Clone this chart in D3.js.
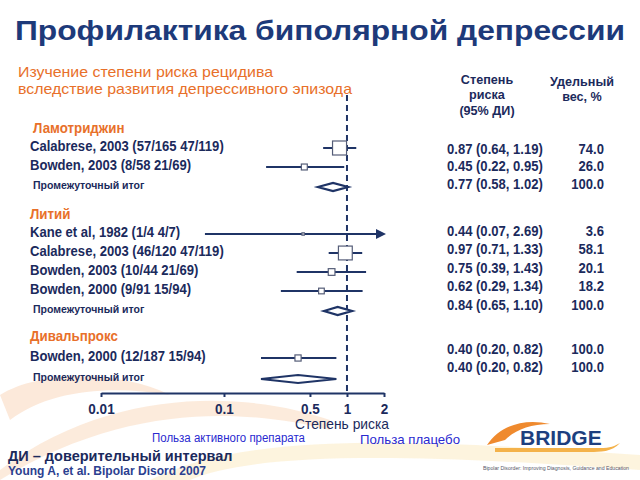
<!DOCTYPE html>
<html><head><meta charset="utf-8">
<script src="https://cdn.jsdelivr.net/npm/d3@7"></script>
<style>body{margin:0;background:#fff}svg{display:block}</style>
</head><body><svg id="c" width="640" height="480"></svg>
<script>
// ---------- DATA ----------
const groups = ["Ламотриджин", "Литий", "Дивальпрокс"];
const studies = [
  "Calabrese, 2003 (57/165 47/119)", "Bowden, 2003 (8/58 21/69)",
  "Kane et al, 1982 (1/4 4/7)", "Calabrese, 2003 (46/120 47/119)", "Bowden, 2003 (10/44 21/69)", "Bowden, 2000 (9/91 15/94)",
  "Bowden, 2000 (12/187 15/94)"
];
const studyGroup = [0, 0, 1, 1, 1, 1, 2];
const hr   = [0.87, 0.45, 0.44, 0.97, 0.75, 0.62, 0.40];
const lo   = [0.64, 0.22, 0.07, 0.71, 0.39, 0.29, 0.20];
const hi   = [1.19, 0.95, 2.69, 1.33, 1.43, 1.34, 0.82];
const weight = [74.0, 26.0, 3.6, 58.1, 20.1, 18.2, 100.0];
const subHr = [0.77, 0.84, 0.40];
const subLo = [0.58, 0.65, 0.20];
const subHi = [1.02, 1.10, 0.82];
const subWeight = [100.0, 100.0, 100.0];
const tickValues = [0.01, 0.1, 0.5, 1, 2];
const tickLabels = ["0.01", "0.1", "0.5", "1", "2"];

// ---------- LAYOUT ----------
const svg = d3.select("#c");
const navy = "#1b2a5c", orange = "#e8702a", markNavy = "#1f3466";
const sans = "'Liberation Sans',Arial,sans-serif";
function condense(sel, f) {
  sel.each(function () {
    const w = this.getComputedTextLength();
    d3.select(this).attr("textLength", w * f).attr("lengthAdjust", "spacingAndGlyphs");
  });
  return sel;
}

// decorative background swooshes
const deco = svg.append("g");
deco.append("path").attr("d","M0,470 C120,380 260,395 330,420 L330,430 C250,410 130,400 0,480 Z").attr("fill","#f6c79a").attr("opacity",0.35);
deco.append("path").attr("d","M0,395 C40,370 120,370 170,395 C110,385 50,390 10,420 Z").attr("fill","#f3a86a").attr("opacity",0.25);
deco.append("path").attr("d","M150,480 C250,430 420,440 640,455 L640,470 C430,455 260,450 190,480 Z").attr("fill","#f9dfa0").attr("opacity",0.35);

const x = d3.scaleLog().domain([0.01, 2]).range([101, 384]);

// row y positions (marks)
const groupY = [128, 214, 336];
const studyY = [148, 167, 234, 253, 272, 291, 358];
const subY = [187, 311, 379];
const rightStudyY = [149, 166, 231, 249, 268, 286, 349];
const rightSubY = [184, 305, 367];

// title
svg.append("text").attr("x", 15).attr("y", 40).text("Профилактика биполярной депрессии")
  .attr("font-family", sans).attr("font-weight", "bold").attr("font-size", 28).attr("fill", "#1d3a7a")
  .attr("textLength", 610).attr("lengthAdjust", "spacingAndGlyphs");
svg.append("text").attr("x", 18).attr("y", 77).text("Изучение степени риска рецидива")
  .attr("font-family", sans).attr("font-size", 15).attr("fill", orange)
  .attr("textLength", 255).attr("lengthAdjust", "spacingAndGlyphs");
svg.append("text").attr("x", 18).attr("y", 94).text("вследствие развития депрессивного эпизода")
  .attr("font-family", sans).attr("font-size", 15).attr("fill", orange)
  .attr("textLength", 334).attr("lengthAdjust", "spacingAndGlyphs");

// column headers
const hdr = svg.append("g").attr("font-family", sans).attr("font-weight", "bold").attr("font-size", 13).attr("fill", navy).attr("text-anchor", "middle");
[["Степень", 84], ["риска", 99], ["(95% ДИ)", 115]].forEach(([t, y]) => hdr.append("text").attr("x", 487).attr("y", y).text(t));
[["Удельный", 86], ["вес, %", 101]].forEach(([t, y]) => hdr.append("text").attr("x", 582).attr("y", y).text(t));
condense(hdr.selectAll("text"), 0.97);

// dashed reference line at 1
svg.append("line").attr("x1", x(1)).attr("x2", x(1)).attr("y1", 95).attr("y2", 393)
  .attr("stroke", markNavy).attr("stroke-width", 2).attr("stroke-dasharray", "6,4");

// group headers
condense(svg.append("g").selectAll("text").data(groups).join("text")
  .attr("x", (d, i) => i === 0 ? 33 : 30).attr("y", (d, i) => groupY[i] + 5).text(d => d)
  .attr("font-family", sans).attr("font-weight", "bold").attr("font-size", 14).attr("fill", orange), 0.95);

// study labels
condense(svg.append("g").selectAll("text").data(studies).join("text")
  .attr("x", 30).attr("y", (d, i) => studyY[i] + 3).text(d => d)
  .attr("font-family", sans).attr("font-weight", "bold").attr("font-size", 15).attr("fill", navy), 0.87);

// subtotal labels
svg.append("g").selectAll("text").data(subHr).join("text")
  .attr("x", 33).attr("y", (d, i) => subY[i] + 2).text("Промежуточный итог")
  .attr("font-family", sans).attr("font-weight", "bold").attr("font-size", 10.5).attr("fill", navy);

// CI lines
const xmax = x.domain()[1];
const cl = svg.append("g");
studies.forEach((s, i) => {
  const x1 = x(lo[i]), x2 = x(Math.min(hi[i], xmax));
  cl.append("line").attr("x1", x1).attr("x2", hi[i] > xmax ? x2 - 6 : x2).attr("y1", studyY[i]).attr("y2", studyY[i])
    .attr("stroke", markNavy).attr("stroke-width", 2.2);
  if (hi[i] > xmax) {
    cl.append("path").attr("d", `M${x2 - 8},${studyY[i] - 5} L${x2 + 2},${studyY[i]} L${x2 - 8},${studyY[i] + 5} Z`).attr("fill", markNavy);
  }
});
// boxes sized by precision (inverse variance from CI)
const prec = studies.map((s, i) => { const se = Math.log(hi[i] / lo[i]) / 3.92; return 1 / (se * se); });
const size = d3.scaleSqrt().domain([0, d3.max(prec)]).range([0, 14]);
svg.append("g").selectAll("rect").data(studies).join("rect")
  .attr("x", (d, i) => x(hr[i]) - size(prec[i]) / 2).attr("y", (d, i) => studyY[i] - size(prec[i]) / 2)
  .attr("width", (d, i) => size(prec[i])).attr("height", (d, i) => size(prec[i]))
  .attr("fill", "#fff").attr("stroke", "#555d78").attr("stroke-width", 1.2);

// diamonds
svg.append("g").selectAll("path").data(subHr).join("path")
  .attr("d", (d, i) => `M${x(subLo[i])},${subY[i]} L${x(d)},${subY[i] - 4} L${x(subHi[i])},${subY[i]} L${x(d)},${subY[i] + 4} Z`)
  .attr("fill", "#fff").attr("stroke", markNavy).attr("stroke-width", 2.2);

// right columns
const fmt = d3.format(".2f"), fw = d3.format(".1f");
const rc = svg.append("g").attr("font-family", sans).attr("font-weight", "bold").attr("font-size", 14.5).attr("fill", navy);
studies.forEach((s, i) => {
  rc.append("text").attr("x", 447).attr("y", rightStudyY[i] + 5).text(`${fmt(hr[i])} (${fmt(lo[i])}, ${fmt(hi[i])})`);
  rc.append("text").attr("x", 604).attr("y", rightStudyY[i] + 5).attr("text-anchor", "end").text(fw(weight[i]));
});
subHr.forEach((d, i) => {
  rc.append("text").attr("x", 447).attr("y", rightSubY[i] + 5).text(`${fmt(d)} (${fmt(subLo[i])}, ${fmt(subHi[i])})`);
  rc.append("text").attr("x", 604).attr("y", rightSubY[i] + 5).attr("text-anchor", "end").text(fw(subWeight[i]));
});
condense(rc.selectAll("text"), 0.9);

// axis
const axis = d3.axisBottom(x).tickValues(tickValues).tickFormat((d, i) => tickLabels[i]).tickSize(4).tickSizeOuter(0);
const ax = svg.append("g").attr("transform", "translate(0,393)").call(axis);
ax.select(".domain").attr("stroke", markNavy).attr("stroke-width", 2);
ax.selectAll(".tick line").attr("stroke", markNavy).attr("stroke-width", 2);
condense(ax.selectAll(".tick text").attr("font-family", sans).attr("font-weight", "bold").attr("font-size", 15).attr("fill", navy).attr("dy", "0.9em"), 0.9);

condense(svg.append("text").attr("x", 342).attr("y", 429).attr("text-anchor", "middle").text("Степень риска")
  .attr("font-family", sans).attr("font-size", 15).attr("fill", navy), 0.92);
svg.append("text").attr("x", 152).attr("y", 442).text("Польза активного препарата")
  .attr("font-family", sans).attr("font-size", 12).attr("fill", "#2a2ad0")
  .attr("textLength", 153).attr("lengthAdjust", "spacingAndGlyphs");
svg.append("text").attr("x", 360).attr("y", 444).text("Польза плацебо")
  .attr("font-family", sans).attr("font-size", 13).attr("fill", "#2a2ad0")
  .attr("textLength", 100).attr("lengthAdjust", "spacingAndGlyphs");

svg.append("text").attr("x", 8).attr("y", 461).text("ДИ – доверительный интервал")
  .attr("font-family", sans).attr("font-weight", "bold").attr("font-size", 14.5).attr("fill", navy);
svg.append("text").attr("x", 8).attr("y", 475).text("Young A, et al. Bipolar Disord 2007")
  .attr("font-family", sans).attr("font-weight", "bold").attr("font-size", 12).attr("fill", "#2b4090");

// BRIDGE logo
const logo = svg.append("g");
logo.append("path").attr("d", "M487,445 C500,425 525,418 550,424 C530,424 515,430 505,440 Z").attr("fill", "#ef8a2e");
logo.append("path").attr("d", "M495,448 L600,448 C610,448 615,446 620,443 C612,452 600,452 590,452 L495,452 Z").attr("fill", "#f4b24a");
logo.append("text").attr("x", 520).attr("y", 445).text("BRIDGE")
  .attr("font-family", sans).attr("font-weight", "bold").attr("font-size", 21).attr("fill", "#1d3f7f");
logo.append("text").attr("x", 483).attr("y", 470).text("Bipolar Disorder: Improving Diagnosis, Guidance and Education")
  .attr("font-family", sans).attr("font-size", 4.5).attr("fill", "#556").attr("textLength", 146).attr("lengthAdjust", "spacingAndGlyphs");
</script></body></html>
